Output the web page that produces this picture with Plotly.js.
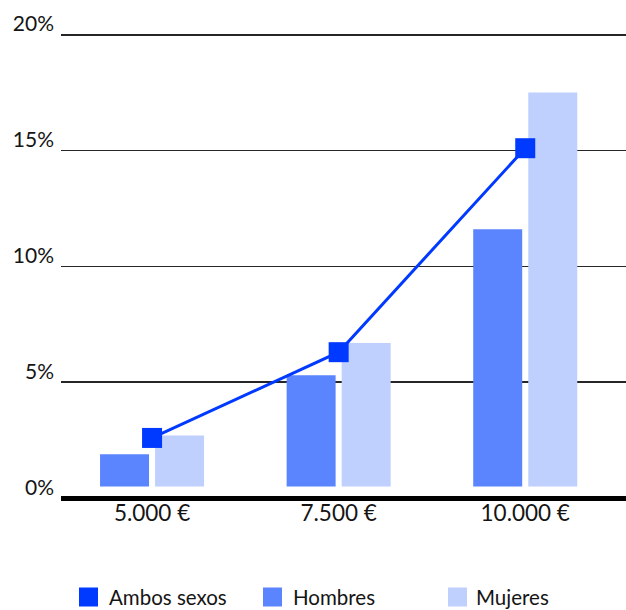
<!DOCTYPE html>
<html>
<head>
<meta charset="utf-8">
<script src="https://cdn.plot.ly/plotly-3.0.1.min.js"></script>
<style>
  html, body { margin: 0; padding: 0; background: #ffffff; }
  #chart { width: 626px; height: 610px; }
</style>
</head>
<body>
<div id="chart"></div>
<script>
// ---- Data ----
const categories = ['5.000 €', '7.500 €', '10.000 €'];
const seriesNames = ['Ambos sexos', 'Hombres', 'Mujeres'];
const ambosSexos = [2.6, 6.3, 15.1];
const hombres = [1.9, 5.3, 11.6];
const mujeres = [2.7, 6.7, 17.5];
const yTickVals = [0, 5, 10, 15, 20];
const yTickText = ['0%', '5%', '10%', '15%', '20%'];

// ---- Style ----
const colors = ['#0039ff', '#5b84ff', '#bfcffe'];
const FONT = 'Lato, "Open Sans", sans-serif';
const textColor = '#151515';
const barBase = 0.5;   // bars float slightly above the baseline, as in the reference

const W = 626, H = 610;
const margin = { l: 61, r: 0, t: 30, b: 106 };
const plotW = W - margin.l - margin.r;
const plotH = H - margin.t - margin.b;
const px2x = px => (px - margin.l) / plotW;
const px2y = py => (H - margin.b - py) / plotH;

const traces = [
  {
    type: 'bar', name: seriesNames[1], x: categories,
    y: hombres.map(v => v - barBase), base: barBase,
    marker: { color: colors[1], line: { width: 0 } },
    showlegend: false, hoverinfo: 'skip'
  },
  {
    type: 'bar', name: seriesNames[2], x: categories,
    y: mujeres.map(v => v - barBase), base: barBase,
    marker: { color: colors[2], line: { width: 0 } },
    showlegend: false, hoverinfo: 'skip'
  },
  {
    type: 'scatter', mode: 'lines+markers', name: seriesNames[0],
    x: categories, y: ambosSexos,
    line: { color: colors[0], width: 3 },
    marker: { symbol: 'square', size: 20, color: colors[0] },
    showlegend: false, hoverinfo: 'skip'
  }
];

// custom legend (large square keys as in the reference)
const legendKeys = [
  { sq: 79, tx: 107 },
  { sq: 263, tx: 291 },
  { sq: 448, tx: 474 }
];
const keySize = 19, keyCenterY = 597;
const shapes = legendKeys.map((k, i) => ({
  type: 'rect', xref: 'paper', yref: 'paper',
  x0: px2x(k.sq), x1: px2x(k.sq + keySize),
  y0: px2y(keyCenterY + keySize / 2), y1: px2y(keyCenterY - keySize / 2),
  fillcolor: colors[i], line: { width: 0 }
}));
const annotations = legendKeys.map((k, i) => ({
  xref: 'paper', yref: 'paper', x: px2x(k.tx), y: px2y(keyCenterY),
  xanchor: 'left', yanchor: 'middle', showarrow: false,
  text: seriesNames[i], font: { family: FONT, size: 20.5, color: textColor }
}));

const layout = {
  width: W, height: H,
  margin: margin,
  paper_bgcolor: '#ffffff', plot_bgcolor: '#ffffff',
  barmode: 'group', bargap: 0.41, bargroupgap: 0.11,
  showlegend: false,
  xaxis: {
    type: 'category', range: [-0.488, 2.54],
    showgrid: false, zeroline: false, showline: false, ticks: '',
    tickfont: { family: FONT, size: 22.5, color: textColor },
    ticklabelstandoff: -7, fixedrange: true
  },
  yaxis: {
    range: [-0.25, 20.2],
    tickvals: yTickVals, ticktext: yTickText,
    showgrid: true, gridcolor: '#262626', gridwidth: 1.8,
    zeroline: true, zerolinecolor: '#000000', zerolinewidth: 5,
    showline: false, ticks: '',
    tickfont: { family: FONT, size: 21, color: textColor },
    ticklabelshift: -11, ticklabelstandoff: 6, fixedrange: true
  },
  shapes: shapes,
  annotations: annotations
};

Plotly.newPlot('chart', traces, layout, { staticPlot: true, displayModeBar: false });
</script>
</body>
</html>
